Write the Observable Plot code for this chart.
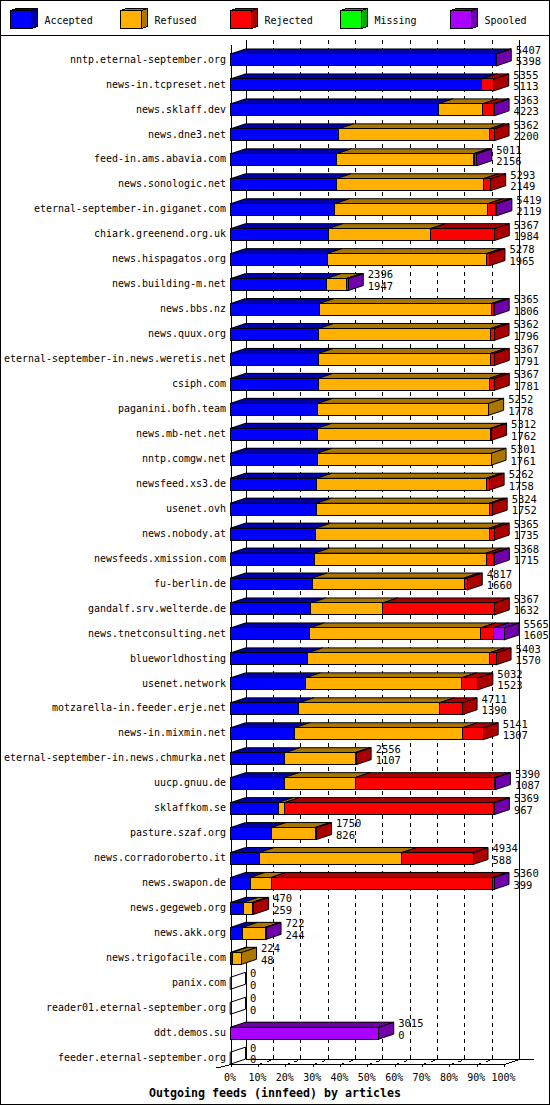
<!DOCTYPE html>
<html>
<head>
<meta charset="utf-8">
<script src="https://cdn.jsdelivr.net/npm/d3@7"></script>
<script src="https://cdn.jsdelivr.net/npm/@observablehq/plot@0.6"></script>
<style>
  html, body { margin: 0; padding: 0; background: #fff; }
  #frame { position: relative; width: 550px; height: 1105px; box-sizing: border-box; border: 1px solid #000; overflow: hidden; font-family: "DejaVu Sans Mono", monospace; color: #000; }
  #legend { position: absolute; left: -1px; top: -1px; width: 550px; height: 36px; border-bottom: 1px solid #000; box-sizing: border-box; }
  #legend .item { position: absolute; top: 0; height: 35px; font-size: 10px; }
  #legend svg { position: absolute; left: 0; top: 6px; }
  #legend svg * { shape-rendering: crispEdges; }
  #legend span { position: absolute; left: 34.5px; top: 14px; line-height: 13px; white-space: pre; }
  #chart { position: absolute; left: -1px; top: 34px; }
  #chart svg { display: block; overflow: visible; }
  #chart svg path, #chart svg rect, #chart svg line { shape-rendering: crispEdges; }
  #caption { position: absolute; left: -1px; width: 550px; top: 1085px; text-align: center; font-weight: bold; font-size: 11.63px; line-height: 14px; white-space: pre; }
</style>
</head>
<body>
<div id="frame">
  <div id="legend"></div>
  <div id="chart"></div>
  <div id="caption">Outgoing feeds (innfeed) by articles</div>
</div>
<script>
const hosts = ["nntp.eternal-september.org","news-in.tcpreset.net","news.sklaff.dev","news.dne3.net","feed-in.ams.abavia.com","news.sonologic.net","eternal-september-in.giganet.com","chiark.greenend.org.uk","news.hispagatos.org","news.building-m.net","news.bbs.nz","news.quux.org","eternal-september-in.news.weretis.net","csiph.com","paganini.bofh.team","news.mb-net.net","nntp.comgw.net","newsfeed.xs3.de","usenet.ovh","news.nobody.at","newsfeeds.xmission.com","fu-berlin.de","gandalf.srv.welterde.de","news.tnetconsulting.net","blueworldhosting","usenet.network","motzarella-in.feeder.erje.net","news-in.mixmin.net","eternal-september-in.news.chmurka.net","uucp.gnuu.de","sklaffkom.se","pasture.szaf.org","news.corradoroberto.it","news.swapon.de","news.gegeweb.org","news.akk.org","news.trigofacile.com","panix.com","reader01.eternal-september.org","ddt.demos.su","feeder.eternal-september.org"];
const offered  = [5407,5355,5363,5362,5011,5293,5419,5367,5278,2396,5365,5362,5367,5367,5252,5312,5301,5262,5324,5365,5368,4817,5367,5565,5403,5032,4711,5141,2556,5390,5369,1750,4934,5360,470,722,224,0,0,3015,0];
const accepted = [5398,5113,4223,2200,2156,2149,2119,1984,1965,1947,1806,1796,1791,1781,1778,1762,1761,1758,1752,1735,1715,1660,1632,1605,1570,1523,1390,1307,1107,1087,967,826,588,399,259,244,48,0,0,0,0];
const refused  = [0,0,902,3067,2786,2996,3114,2085,3241,409,3502,3498,3503,3486,3474,3530,3540,3448,3515,3532,3491,3093,1462,3479,3697,3175,2862,3412,1425,1445,136,894,2899,427,181,460,176,0,0,0,0];
const rejected = [0,242,216,95,30,148,149,1298,72,0,40,68,73,100,0,20,0,56,57,98,142,64,2273,264,136,334,459,422,24,2843,4252,30,1447,4509,30,0,0,0,0,0,0];
const missing  = new Array(41).fill(0);
const spooled  = [9,0,22,0,39,0,37,0,0,40,17,0,0,0,0,0,0,0,0,0,20,0,0,217,0,0,0,0,0,15,14,0,0,25,0,18,0,0,0,3015,0];

const seriesNames  = ["Accepted","Refused","Rejected","Missing","Spooled"];
const seriesValues = [accepted,refused,rejected,missing,spooled];
const frontColors  = ["#0000ff","#ffb000","#ff0000","#00ff00","#aa00ff"];
const darkColors   = ["#0000aa","#aa7500","#aa0000","#00aa00","#7100aa"];
const percentTicks = [0,10,20,30,40,50,60,70,80,90,100];

const maxArticles = d3.max(offered);
// scale geometry: 274 px for 100 %, 25 px per row
const depthX = maxArticles * 15 / 274;
const depthY = 0.2;
const half = 0.24;
const floorY = hosts.length - 1 + half;
const wallTop = -0.78;
const xOf = p => maxArticles * p / 100;

const fronts = [], tops = [], sides = [];
hosts.forEach((host, row) => {
  let start = 0, last = null;
  seriesValues.forEach((vals, s) => {
    const v = vals[row];
    if (v <= 0) return;
    fronts.push({s, x1: start, x2: start + v, y1: row - half, y2: row + half});
    tops.push({s, k: row + "-" + s, x1: start, x2: start + v, y: row - half});
    tops.push({s, k: row + "-" + s, x1: start + depthX, x2: start + v + depthX, y: row - half - depthY});
    start += v; last = s;
  });
  const k = "r" + row;
  sides.push({s: last, k, x: start, y1: row - half, y2: row + half});
  sides.push({s: last, k, x: start + depthX, y1: row - half - depthY, y2: row + half - depthY});
});

const mono = "DejaVu Sans Mono, monospace";
const fillOf = d => d.s === null ? "none" : darkColors[d.s];

const gridTicks = percentTicks.slice(1, -1);
const marks = [
  // back wall
  Plot.ruleX(percentTicks.filter(p => p === 0 || p === 100), {x: p => xOf(p) + depthX, y1: wallTop, y2: floorY - depthY, stroke: "#000"}),
  Plot.ruleX(gridTicks, {x: p => xOf(p) + depthX, y1: wallTop, y2: floorY - depthY, stroke: "#000", strokeDasharray: "4,4"}),
  // floor
  Plot.ruleY([floorY - depthY], {x1: depthX, x2: maxArticles + 2 * depthX, stroke: "#000"}),
  Plot.ruleY([floorY], {x1: 0, x2: maxArticles, stroke: "#000"}),
  Plot.link([0], {x1: -depthX, y1: floorY + depthY * 0.7, x2: 0, y2: floorY, stroke: "#000"}),
  Plot.link(percentTicks.filter(p => p === 100), {x1: xOf, y1: floorY, x2: p => xOf(p) + depthX, y2: floorY - depthY, stroke: "#000"}),
  Plot.link(gridTicks, {x1: xOf, y1: floorY, x2: p => xOf(p) + depthX, y2: floorY - depthY, stroke: "#000", strokeDasharray: "4,5"}),
  Plot.ruleX(percentTicks, {x: xOf, y1: floorY, y2: floorY + 0.12, stroke: "#000"}),
  // left axis
  Plot.ruleX([0], {y1: -0.58, y2: floorY, stroke: "#000"}),
  // bars
  Plot.areaY(sides, {x: "x", y1: "y1", y2: "y2", z: "k", fill: fillOf, stroke: "#000", strokeWidth: 1}),
  Plot.areaX(tops, {x1: "x1", x2: "x2", y: "y", z: "k", fill: d => darkColors[d.s], stroke: "#000", strokeWidth: 1}),
  Plot.rect(fronts, {x1: "x1", x2: "x2", y1: "y1", y2: "y2", fill: d => frontColors[d.s], stroke: "#000", strokeWidth: 1}),
  // text
  Plot.text(hosts, {x: () => 0, y: (d, i) => i, text: d => d, textAnchor: "end", dx: -5, dy: -1, fontSize: 10, fontFamily: mono, fill: "#000"}),
  Plot.text(offered, {x: d => d + depthX, y: (d, i) => i, text: d => String(d), textAnchor: "start", dx: 4, dy: -10, fontSize: 10.5, fontFamily: mono, fill: "#000"}),
  Plot.text(accepted, {x: (d, i) => offered[i] + depthX, y: (d, i) => i, text: d => String(d), textAnchor: "start", dx: 4, dy: 1.5, fontSize: 10.5, fontFamily: mono, fill: "#000"}),
  Plot.text(percentTicks, {x: xOf, y: () => floorY, text: p => p + "%", textAnchor: "middle", dx: -1, dy: 13, fontSize: 10, fontFamily: mono, fill: "#000"})
];

const svgTop = 35;
const chart = Plot.plot({
  width: 550,
  height: 1050,
  margin: 0,
  x: {domain: [0, maxArticles], range: [231, 505], axis: null},
  y: {domain: [0, hosts.length - 1], range: [60 - svgTop, 1060 - svgTop], axis: null},
  style: {background: "transparent", fontFamily: mono},
  marks
});
document.getElementById("chart").appendChild(chart);

// legend cubes
const legend = d3.select("#legend");
seriesNames.forEach((name, i) => {
  const item = legend.append("div").attr("class", "item").style("left", (10 + 110 * i) + "px").style("width", "100px");
  const svg = item.append("svg").attr("width", 32).attr("height", 24);
  const common = sel => sel.attr("stroke", "#000").attr("stroke-width", 1);
  svg.append("polygon").attr("points", "0.5,4.5 6.5,2.5 27.5,2.5 21.5,4.5").attr("fill", darkColors[i]).call(common);
  svg.append("polygon").attr("points", "21.5,4.5 27.5,2.5 27.5,20.5 21.5,22.5").attr("fill", darkColors[i]).call(common);
  svg.append("rect").attr("x", 0.5).attr("y", 4.5).attr("width", 21).attr("height", 18).attr("fill", frontColors[i]).call(common);
  item.append("span").text(name);
});
</script>
</body>
</html>
